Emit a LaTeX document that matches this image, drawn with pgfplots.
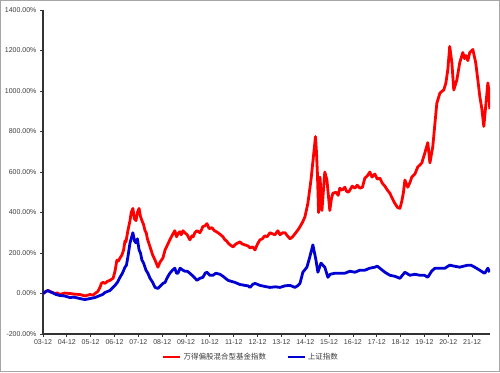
\documentclass[border=0pt]{standalone}
\usepackage{pgfplots}
\pgfplotsset{compat=1.18}
\usepackage{fontspec}
\setmainfont{Liberation Sans}
\newfontfamily\cjk{Noto Sans CJK SC}
\definecolor{fundred}{RGB}{255,0,0}
\definecolor{idxblue}{RGB}{0,0,210}
\definecolor{txt}{RGB}{60,60,60}
\begin{document}
\begin{tikzpicture}
\draw[black!35, line width=1pt] (0.5pt,0.5pt) rectangle (499.5pt,371.5pt);
\begin{axis}[
  at={(43pt,38pt)}, anchor=south west,
  width=447pt, height=324pt, scale only axis,
  xmin=0, xmax=18.75, ymin=-200, ymax=1400,
  axis lines*=left,
  axis line style={-, line width=1.4pt, black!80},
  xtick={0,...,18},
  xticklabels={03-12,04-12,05-12,06-12,07-12,08-12,09-12,10-12,11-12,12-12,13-12,14-12,15-12,16-12,17-12,18-12,19-12,20-12,21-12},
  ytick={-200,0,...,1400},
  yticklabel={\pgfmathprintnumber[fixed,fixed zerofill,precision=2,1000 sep={}]{\tick}\%},
  /pgf/number format/assume math mode=true,
  tick align=outside, major tick length=3pt,
  tick style={black!80, line width=0.8pt},
  ticklabel style={font=\fontsize{7}{8}\selectfont, text=txt},
  xticklabel style={yshift=1pt},
  legend style={at={(0.465,-0.071)}, anchor=center, draw=none, fill=none,
    legend columns=2, font=\fontsize{7.5}{9}\selectfont\cjk, text=txt,
    /tikz/every even column/.append style={column sep=18pt}},
  legend image code/.code={\draw[#1, line width=2.8pt] (0pt,0pt) -- (17pt,0pt);},
]
\addplot[fundred, line width=2.8pt, line join=round] coordinates {
(0,0) (0.10,8) (0.21,15) (0.29,10) (0.40,5) (0.50,0) (0.60,3) (0.71,-5) (0.90,2) (1.13,0) (1.30,-3)
(1.55,-5) (1.76,-12) (1.97,-5) (2.10,-8) (2.18,0)
(2.30,10) (2.39,30) (2.45,50) (2.52,55) (2.60,50) (2.70,60) (2.81,65) (2.94,75) (3.02,110) (3.10,165) (3.16,160) (3.23,175)
(3.31,190) (3.38,215) (3.44,260) (3.48,255) (3.56,310) (3.65,360) (3.70,400) (3.77,420) (3.83,370) (3.90,360)
(3.96,400) (4.03,420) (4.09,380) (4.15,360) (4.22,340) (4.28,310) (4.33,300) (4.38,270) (4.49,230) (4.60,190)
(4.70,165) (4.82,130) (4.91,155) (5.03,175) (5.12,215) (5.22,240) (5.32,265) (5.43,290) (5.53,310)
(5.60,280) (5.66,295) (5.74,305) (5.80,290) (5.87,310) (5.95,300) (6.05,290) (6.16,265) (6.25,285) (6.30,280) (6.37,300)
(6.46,310) (6.58,300) (6.65,315) (6.70,330) (6.80,335) (6.88,345) (6.97,320) (7.09,325) (7.15,315) (7.20,310) (7.34,300)
(7.45,290) (7.55,280) (7.63,265) (7.70,260) (7.76,250) (7.85,240) (7.97,230) (8.05,240) (8.10,245) (8.26,255) (8.35,245) (8.47,240) (8.60,235) (8.68,225) (8.80,230) (8.89,215)
(9.00,245) (9.10,265) (9.20,270) (9.30,285) (9.40,280) (9.52,300) (9.62,295) (9.73,290) (9.85,310) (9.94,290) (10.05,300) (10.15,300) (10.25,285) (10.36,270)
(10.47,280) (10.57,295) (10.70,315) (10.78,330) (10.90,355) (10.99,380) (11.11,445) (11.24,560) (11.32,650) (11.43,775) (11.47,700)
(11.51,595) (11.56,400) (11.62,575) (11.70,410) (11.82,600) (11.91,560) (12.03,410) (12.10,470) (12.16,495)
(12.30,500) (12.38,485) (12.45,520) (12.55,510) (12.66,525) (12.73,505) (12.80,500) (12.87,510) (12.97,530) (13.08,520) (13.18,535) (13.29,520) (13.40,525)
(13.50,570) (13.60,580) (13.71,600) (13.80,575) (13.92,590) (14.02,565) (14.13,570) (14.23,545) (14.34,530) (14.45,510) (14.55,495) (14.65,470) (14.76,445)
(14.87,425) (14.97,420) (15.05,455) (15.12,500) (15.18,560) (15.30,525) (15.40,550) (15.47,575) (15.60,590) (15.72,625) (15.81,635) (15.89,645) (16.02,695)
(16.14,745) (16.23,645) (16.35,725) (16.44,840) (16.52,940) (16.65,990) (16.75,1000) (16.81,1005) (16.90,1040) (16.98,1105)
(17.06,1220) (17.15,1140) (17.23,1005) (17.36,1055) (17.48,1140) (17.61,1190) (17.68,1160) (17.74,1175)
(17.82,1150) (17.90,1190) (18.03,1205) (18.15,1140) (18.24,1055) (18.32,975) (18.41,910)
(18.49,825) (18.57,925) (18.66,1040) (18.70,1005) (18.74,910)
};
\addlegendentry{万得偏股混合型基金指数}
\addplot[idxblue, line width=2.8pt, line join=round] coordinates {
(0,0) (0.10,8) (0.21,15) (0.30,8) (0.38,5) (0.55,-5) (0.71,-10) (0.90,-12) (1.13,-20) (1.30,-18) (1.55,-25) (1.76,-30) (1.97,-25) (2.18,-20)
(2.39,-10) (2.50,-5) (2.60,5) (2.81,15) (3.02,40) (3.12,55) (3.23,80) (3.33,100) (3.44,130) (3.50,140) (3.56,180) (3.65,250) (3.77,300)
(3.84,260) (3.90,250) (3.96,270) (4.03,215) (4.09,200) (4.15,165) (4.22,150) (4.32,115) (4.40,100) (4.49,75) (4.60,55) (4.70,30) (4.82,25) (4.95,40) (5.03,50) (5.12,55)
(5.22,80) (5.32,100) (5.43,115) (5.53,125) (5.60,100) (5.66,100) (5.75,125) (5.87,115) (5.95,110) (6.05,110) (6.16,100) (6.30,85) (6.46,65) (6.58,75) (6.71,80) (6.80,100) (6.88,105) (7.00,90) (7.13,90)
(7.25,100) (7.42,95) (7.55,85) (7.76,65) (7.90,60) (8.05,55) (8.25,45) (8.47,40) (8.60,38) (8.68,30) (8.80,45) (8.89,50) (9.00,45) (9.10,40) (9.30,35) (9.52,30) (9.75,33) (9.94,30)
(10.15,38) (10.36,40) (10.47,35) (10.57,30) (10.70,40) (10.78,50) (10.90,105) (11.07,130) (11.19,180) (11.32,240) (11.45,165)
(11.53,105) (11.66,150) (11.82,130) (11.95,80) (12.05,95) (12.24,100) (12.45,100) (12.66,100) (12.87,110) (13.08,105) (13.29,115) (13.50,115) (13.71,125)
(13.92,130) (14.02,135) (14.13,125) (14.34,105) (14.55,90) (14.76,85) (14.97,75) (15.18,105) (15.39,90) (15.60,95) (15.81,90) (16.00,90)
(16.14,80) (16.30,110) (16.44,125) (16.65,125) (16.86,125) (17.06,140) (17.25,135) (17.48,130) (17.65,135) (17.82,140) (17.95,140) (18.11,130) (18.32,115)
(18.45,105) (18.53,100) (18.66,125) (18.74,105)
};
\addlegendentry{上证指数}
\end{axis}
\end{tikzpicture}
\end{document}
